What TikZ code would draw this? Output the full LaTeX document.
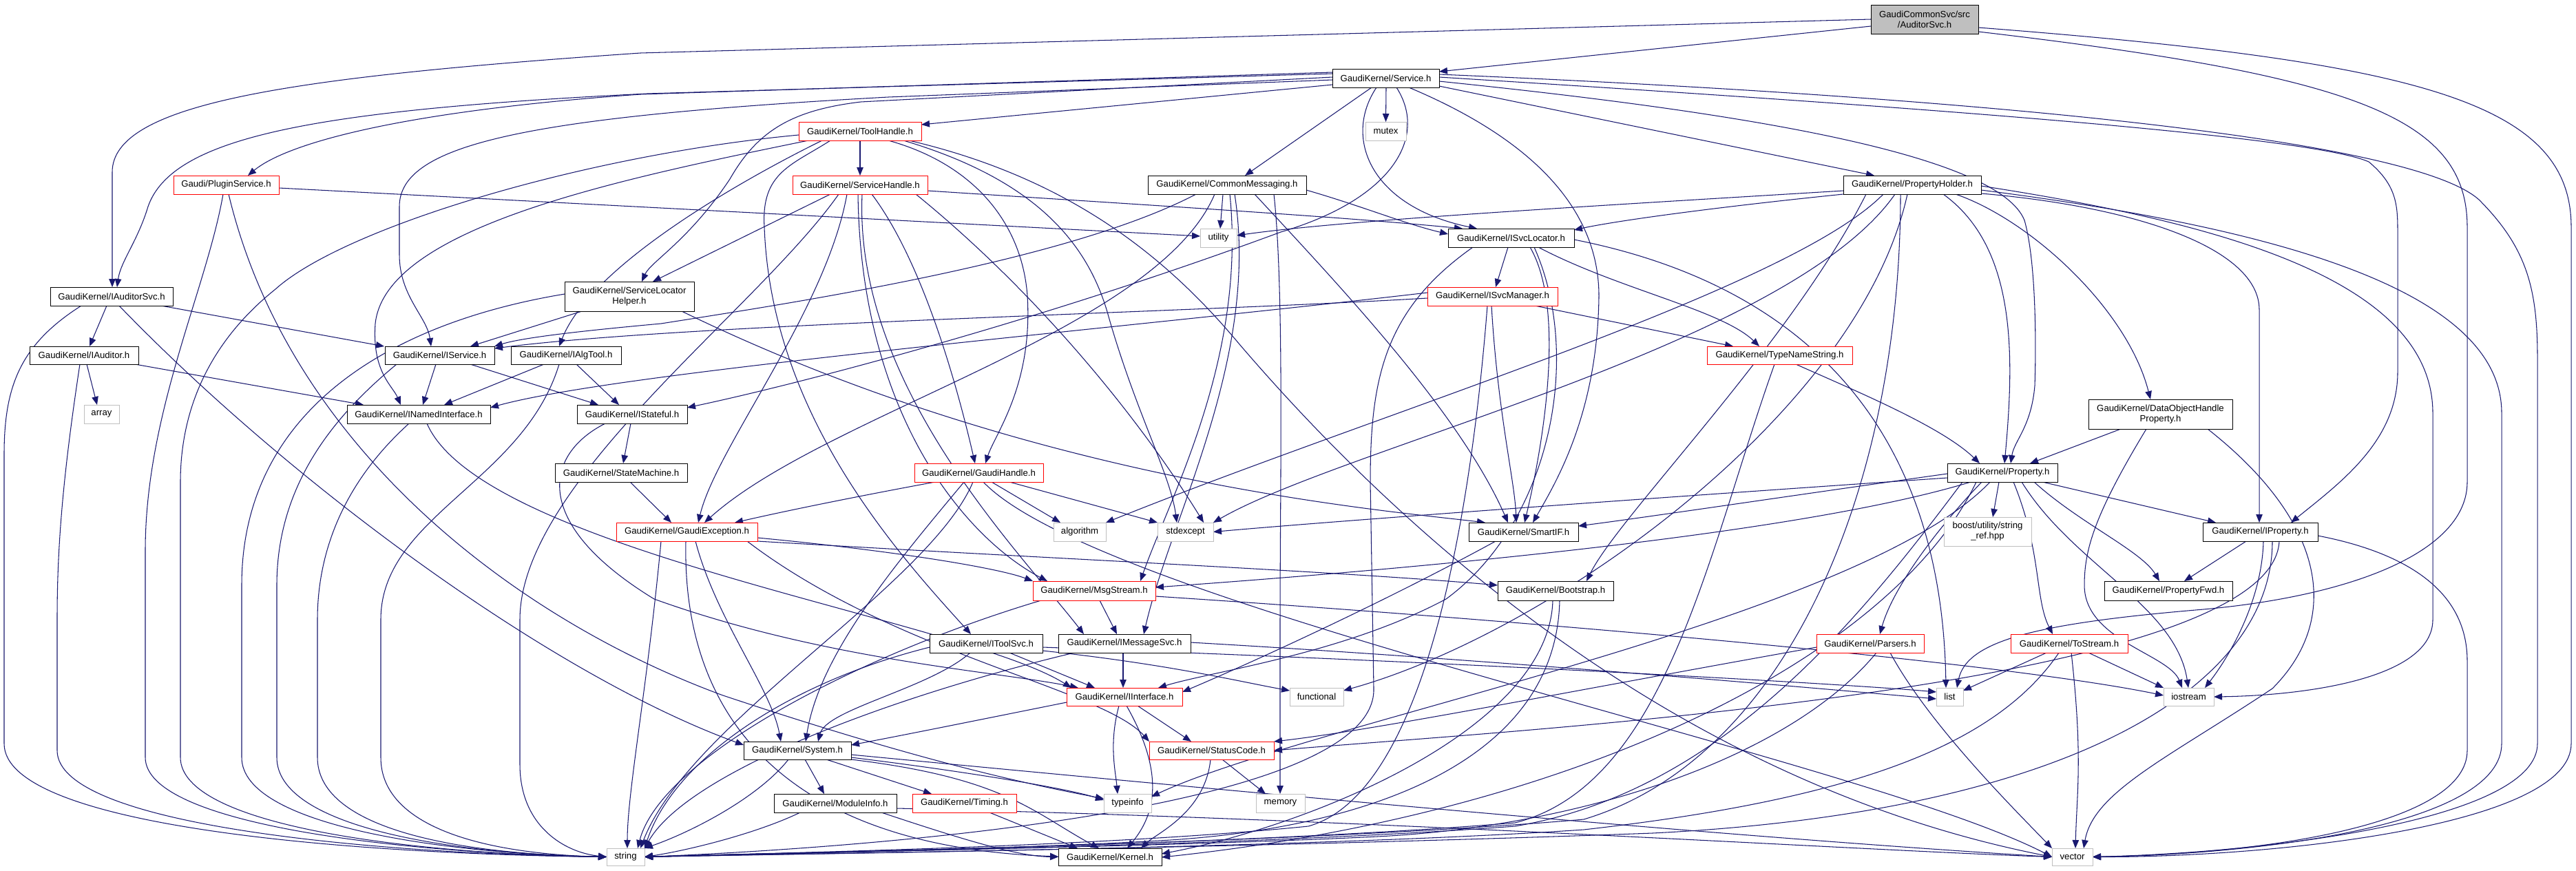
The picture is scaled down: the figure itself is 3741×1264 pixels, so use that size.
\documentclass[tikz,border=0pt]{standalone}
\usepackage{fontspec}
\setmainfont{Liberation Sans}
\usetikzlibrary{arrows.meta}
\definecolor{eb}{HTML}{191970}
\definecolor{lg}{HTML}{BFBFBF}
\pgfdeclarelayer{bg}
\pgfsetlayers{bg,main}
\newcommand\mknode[7]{\node[#6,minimum width={(#4-#2)*0.2mm},minimum height={(#5-#3)*0.2mm}] (#1) at ({(#2+#4)/2},{(#3+#5)/2}) {#7};}
\begin{document}
\begin{tikzpicture}[x=0.02cm,y=-0.02cm,
  bx/.style={inner sep=0pt,outer sep=0pt,line width=0.55pt,align=center,fill=white,font=\fontsize{7.5}{8.6}\selectfont},
  nb/.style={bx,draw=black},
  rb/.style={bx,draw=red},
  gb/.style={bx,draw=lg},
  rt/.style={bx,draw=black,fill=lg},
  e/.style={draw=eb,line width=0.6pt,-{Triangle[length=2.4mm,width=1.9mm]}}]
\useasboundingbox (0,0) rectangle (3741,1264);
\mknode{root}{2717}{7}{2873}{49}{rt}{GaudiCommonSvc/src\\/AuditorSvc.h}
\mknode{service}{1935}{100}{2090}{127}{nb}{GaudiKernel/Service.h}
\mknode{mutex}{1983}{177}{2042}{204}{gb}{mutex}
\mknode{toolhandle}{1160}{177}{1338}{204}{rb}{GaudiKernel/ToolHandle.h}
\mknode{pluginsvc}{252}{255}{405}{282}{rb}{Gaudi/PluginService.h}
\mknode{servicehandle}{1151}{255}{1347}{282}{rb}{GaudiKernel/ServiceHandle.h}
\mknode{commonmsg}{1667}{255}{1897}{282}{nb}{GaudiKernel/CommonMessaging.h}
\mknode{propholder}{2677}{255}{2877}{282}{nb}{GaudiKernel/PropertyHolder.h}
\mknode{utility}{1743}{332}{1796}{359}{gb}{utility}
\mknode{isvclocator}{2103}{332}{2286}{359}{nb}{GaudiKernel/ISvcLocator.h}
\mknode{iauditorsvc}{73}{417}{251}{444}{nb}{GaudiKernel/IAuditorSvc.h}
\mknode{slhelper}{820}{409}{1008}{452}{nb}{GaudiKernel/ServiceLocator\\Helper.h}
\mknode{isvcmanager}{2073}{417}{2262}{444}{rb}{GaudiKernel/ISvcManager.h}
\mknode{iauditor}{43}{503}{201}{529}{nb}{GaudiKernel/IAuditor.h}
\mknode{iservice}{559}{503}{718}{529}{nb}{GaudiKernel/IService.h}
\mknode{ialgtool}{742}{503}{902}{529}{nb}{GaudiKernel/IAlgTool.h}
\mknode{typenamestring}{2479}{503}{2690}{529}{rb}{GaudiKernel/TypeNameString.h}
\mknode{array}{122}{588}{173}{615}{gb}{array}
\mknode{inamedinterface}{504}{588}{712}{615}{nb}{GaudiKernel/INamedInterface.h}
\mknode{istateful}{838}{588}{998}{615}{nb}{GaudiKernel/IStateful.h}
\mknode{dohp}{3033}{580}{3242}{623}{nb}{GaudiKernel/DataObjectHandle\\Property.h}
\mknode{statemachine}{806}{673}{998}{700}{nb}{GaudiKernel/StateMachine.h}
\mknode{gaudihandle}{1328}{673}{1515}{700}{rb}{GaudiKernel/GaudiHandle.h}
\mknode{property}{2828}{673}{2988}{700}{nb}{GaudiKernel/Property.h}
\mknode{gaudiexception}{895}{759}{1100}{786}{rb}{GaudiKernel/GaudiException.h}
\mknode{algorithm}{1530}{759}{1606}{786}{gb}{algorithm}
\mknode{stdexcept}{1681}{759}{1762}{786}{gb}{stdexcept}
\mknode{smartif}{2133}{759}{2292}{786}{nb}{GaudiKernel/SmartIF.h}
\mknode{boost}{2823}{751}{2950}{793}{gb}{boost/utility/string\\\_ref.hpp}
\mknode{iproperty}{3199}{759}{3366}{786}{nb}{GaudiKernel/IProperty.h}
\mknode{msgstream}{1500}{844}{1678}{872}{rb}{GaudiKernel/MsgStream.h}
\mknode{bootstrap}{2175}{844}{2343}{872}{nb}{GaudiKernel/Bootstrap.h}
\mknode{propertyfwd}{3056}{844}{3242}{872}{nb}{GaudiKernel/PropertyFwd.h}
\mknode{itoolsvc}{1350}{921}{1514}{948}{nb}{GaudiKernel/IToolSvc.h}
\mknode{imessagesvc}{1537}{921}{1729}{948}{nb}{GaudiKernel/IMessageSvc.h}
\mknode{parsers}{2638}{921}{2794}{948}{rb}{GaudiKernel/Parsers.h}
\mknode{tostream}{2920}{921}{3090}{948}{rb}{GaudiKernel/ToStream.h}
\mknode{iinterface}{1549}{999}{1717}{1025}{rb}{GaudiKernel/IInterface.h}
\mknode{functional}{1873}{999}{1951}{1025}{gb}{functional}
\mknode{list}{2812}{999}{2851}{1025}{gb}{list}
\mknode{iostream}{3142}{999}{3215}{1025}{gb}{iostream}
\mknode{system}{1080}{1077}{1236}{1103}{nb}{GaudiKernel/System.h}
\mknode{statuscode}{1669}{1077}{1850}{1103}{rb}{GaudiKernel/StatusCode.h}
\mknode{moduleinfo}{1124}{1153}{1302}{1180}{nb}{GaudiKernel/ModuleInfo.h}
\mknode{timing}{1325}{1153}{1476}{1180}{rb}{GaudiKernel/Timing.h}
\mknode{typeinfo}{1603}{1153}{1672}{1180}{gb}{typeinfo}
\mknode{memory}{1824}{1153}{1895}{1180}{gb}{memory}
\mknode{string}{881}{1232}{936}{1257}{gb}{string}
\mknode{kernel}{1537}{1232}{1687}{1257}{nb}{GaudiKernel/Kernel.h}
\mknode{vector}{2980}{1232}{3039}{1257}{gb}{vector}
\begin{pgfonlayer}{bg}
\fill[white] (0,0) rectangle (3741,1264);
% root
\draw[e] (root.west |- 0,38) -- (service.east |- 0,104);
\draw[e] (root.west |- 0,28) -- (930,77) .. controls (420,112) and (163,150) .. (163,250) -- (iauditorsvc.north -| 163,0);
\draw[e] (root.east |- 0,46) .. controls (3420,110) and (3583,170) .. (3583,330) -- (3583,700) .. controls (3583,800) and (3420,865) .. (3200,885) .. controls (2960,905) and (2855,930) .. (list.north -| 2842,0);
\draw[e] (root.east |- 0,40) .. controls (3520,90) and (3734,150) .. (3734,330) -- (3734,1080) .. controls (3734,1200) and (3300,1245) .. (vector.east);
% service
\draw[e] (service.west |- 0,123) -- (toolhandle.east |- 0,181);
\draw[e] (service.west |- 0,105) -- (930,137) .. controls (600,160) and (420,205) .. (pluginsvc.north -| 360,0);
\draw[e] (service.west |- 0,107) -- (940,136) .. controls (450,160) and (250,200) .. (215,300) .. controls (200,350) and (175,380) .. (iauditorsvc.north -| 170,0);
\draw[e] (service.west |- 0,116) -- (1290,141) .. controls (760,170) and (580,210) .. (580,300) -- (580,370) .. controls (580,430) and (620,460) .. (iservice.north -| 626,0);
\draw[e] (service.west |- 0,112) -- (1250,148) .. controls (1150,160) and (1100,190) .. (1060,260) .. controls (1000,350) and (945,380) .. (slhelper.north -| 932,0);
\draw[e] (service.south -| 1992,0) -- (commonmsg.north -| 1808,0);
\draw[e] (service.south -| 2013,0) -- (mutex.north);
\draw[e] (service.south -| 1999,0) .. controls (1950,200) and (1990,300) .. (isvclocator.north -| 2145,0);
\draw[e] (service.south -| 2028,0) .. controls (2075,200) and (2020,290) .. (1860,337) .. controls (1500,470) and (1150,560) .. (istateful.east |- 0,592);
\draw[e] (service.south -| 2046,0) .. controls (2220,200) and (2322,300) .. (2322,430) .. controls (2320,600) and (2260,700) .. (smartif.north -| 2226,0);
\draw[e] (service.east |- 0,125) -- (propholder.north -| 2722,0);
\draw[e] (service.east |- 0,118) .. controls (2500,160) and (2900,220) .. (2940,320) .. controls (2957,380) and (2957,500) .. (2955,560) .. controls (2950,620) and (2925,640) .. (property.north -| 2920,0);
\draw[e] (service.east |- 0,112) .. controls (2700,150) and (3350,195) .. (3440,235) .. controls (3482,270) and (3482,300) .. (3482,340) -- (3482,540) .. controls (3482,640) and (3400,700) .. (iproperty.north -| 3327,0);
\draw[e] (service.east |- 0,108) .. controls (2850,140) and (3500,200) .. (3600,290) .. controls (3670,360) and (3685,420) .. (3685,520) -- (3685,1080) .. controls (3685,1190) and (3300,1238) .. (vector.east);
% toolhandle
\draw[e] (toolhandle.south) -- (servicehandle.north);
\draw[e] (toolhandle.south -| 1290,0) .. controls (1420,240) and (1485,330) .. (1492,430) .. controls (1500,560) and (1445,630) .. (gaudihandle.north -| 1431,0);
\draw[e] (toolhandle.south -| 1312,0) .. controls (1500,260) and (1580,350) .. (1610,460) .. controls (1650,600) and (1700,690) .. (stdexcept.north -| 1709,0);
\draw[e] (toolhandle.south -| 1320,0) .. controls (1560,260) and (1700,380) .. (1800,500) .. controls (2100,850) and (2500,1150) .. (vector.west);
\draw[e] (toolhandle.west |- 0,196) .. controls (850,225) and (500,330) .. (400,420) .. controls (300,500) and (262,600) .. (262,700) -- (262,1100) .. controls (262,1200) and (600,1240) .. (string.west);
\draw[e] (toolhandle.south -| 1194,0) .. controls (1100,250) and (860,380) .. (ialgtool.north -| 812,0);
\draw[e] (toolhandle.south -| 1174,0) .. controls (900,260) and (560,330) .. (545,470) .. controls (540,540) and (570,560) .. (inamedinterface.north -| 582,0);
\draw[e] (toolhandle.south -| 1206,0) .. controls (1150,240) and (1105,250) .. (1110,330) .. controls (1120,600) and (1300,800) .. (itoolsvc.north -| 1410,0);
% pluginsvc
\draw[e] (pluginsvc.east |- 0,273) -- (utility.west |- 0,343);
\draw[e] (pluginsvc.south -| 324,0) .. controls (300,420) and (211,600) .. (211,800) -- (211,1100) .. controls (211,1200) and (600,1240) .. (string.west);
\draw[e] (pluginsvc.south -| 332,0) .. controls (420,650) and (750,900) .. (1050,1010) .. controls (1350,1110) and (1500,1140) .. (typeinfo.west |- 0,1160);
% servicehandle
\draw[e] (servicehandle.south -| 1206,0) -- (slhelper.north -| 948,0);
\draw[e] (servicehandle.east |- 0,277) .. controls (1700,300) and (1950,315) .. (isvclocator.north -| 2124,0);
\draw[e] (servicehandle.south -| 1266,0) .. controls (1340,380) and (1390,560) .. (gaudihandle.north -| 1416,0);
\draw[e] (servicehandle.south -| 1230,0) .. controls (1200,450) and (1040,650) .. (gaudiexception.north -| 1014,0);
\draw[e] (servicehandle.south -| 1252,0) .. controls (1240,560) and (1480,800) .. (imessagesvc.north -| 1574,0);
\draw[e] (servicehandle.south -| 1246,0) .. controls (1250,600) and (1400,780) .. (msgstream.north -| 1521,0);
\draw[e] (servicehandle.south -| 1330,0) .. controls (1500,420) and (1650,600) .. (stdexcept.north -| 1748,0);
\draw[e] (servicehandle.south -| 1218,0) .. controls (1100,450) and (755,700) .. (755,900) -- (755,1110) .. controls (755,1200) and (820,1238) .. (string.west);
% commonmsg
\draw[e] (commonmsg.south -| 1776,0) -- (utility.north -| 1772,0);
\draw[e] (commonmsg.east |- 0,276) .. controls (1980,300) and (2040,325) .. (isvclocator.west |- 0,340);
\draw[e] (commonmsg.south -| 1737,0) .. controls (1550,380) and (1150,440) .. (960,470) .. controls (850,480) and (760,490) .. (iservice.north east);
\draw[e] (commonmsg.south -| 1764,0) .. controls (1680,480) and (1200,600) .. (gaudiexception.north -| 1023,0);
\draw[e] (commonmsg.south -| 1793,0) .. controls (1830,520) and (1700,750) .. (imessagesvc.north -| 1661,0);
\draw[e] (commonmsg.south -| 1786,0) .. controls (1810,520) and (1700,720) .. (msgstream.north -| 1656,0);
\draw[e] (commonmsg.south -| 1822,0) .. controls (1950,420) and (2120,600) .. (smartif.north -| 2190,0);
\draw[e] (commonmsg.south -| 1850,0) .. controls (1865,420) and (1859,700) .. (1859,900) -- (memory.north -| 1859,0);
% propholder
\draw[e] (propholder.west |- 0,277) .. controls (2300,300) and (1950,320) .. (utility.east |- 0,342);
\draw[e] (propholder.west |- 0,282) .. controls (2500,300) and (2350,320) .. (isvclocator.east |- 0,334);
\draw[e] (propholder.south -| 2735,0) .. controls (2600,420) and (2000,600) .. (algorithm.north east);
\draw[e] (propholder.south -| 2752,0) .. controls (2600,500) and (1950,650) .. (stdexcept.north east);
\draw[e] (propholder.south -| 2770,0) .. controls (2700,600) and (2250,920) .. (functional.east |- 0,1003);
\draw[e] (propholder.south -| 2760,0) .. controls (2760,700) and (2600,1100) .. (2300,1190) .. controls (1900,1225) and (1150,1238) .. (string.east);
\draw[e] (propholder.east |- 0,270) .. controls (3200,320) and (3533,400) .. (3533,600) -- (3533,900) .. controls (3533,985) and (3350,1010) .. (iostream.east);
\draw[e] (propholder.east |- 0,276) .. controls (3300,330) and (3633,420) .. (3633,600) -- (3633,1080) .. controls (3633,1195) and (3300,1240) .. (vector.east);
\draw[e] (propholder.east |- 0,281) .. controls (3100,300) and (3281,360) .. (3281,450) -- (iproperty.north -| 3281,0);
\draw[e] (propholder.south -| 2840,0) .. controls (2950,320) and (3090,450) .. (dohp.north -| 3123,0);
\draw[e] (propholder.south -| 2822,0) .. controls (2930,360) and (2925,520) .. (property.north -| 2911,0);
\draw[e] (propholder.south -| 2710,0) .. controls (2600,500) and (2350,750) .. (bootstrap.north -| 2304,0);
% isvclocator
\draw[e] (isvclocator.south -| 2190,0) -- (isvcmanager.north -| 2172,0);
\draw[e] (isvclocator.south -| 2139,0) .. controls (2010,450) and (1990,550) .. (1990,700) -- (1995,1000) .. controls (2000,1190) and (1150,1236) .. (string.east);
\draw[e] (isvclocator.south -| 2222,0) .. controls (2275,450) and (2240,650) .. (smartif.north -| 2214,0);
\draw[e] (isvclocator.south -| 2234,0) .. controls (2350,420) and (2500,450) .. (typenamestring.north -| 2555,0);
\draw[e] (isvclocator.south -| 2228,0) .. controls (2300,520) and (2250,760) .. (2100,870) .. controls (1950,950) and (1760,975) .. (iinterface.north -| 1682,0);
\draw[e] (isvclocator.east |- 0,348) .. controls (2650,420) and (2820,650) .. (list.north -| 2826,0);
% isvcmanager
\draw[e] (isvcmanager.west |- 0,433) .. controls (1700,455) and (1000,470) .. (iservice.east |- 0,506);
\draw[e] (isvcmanager.west |- 0,425) .. controls (1600,480) and (900,540) .. (inamedinterface.east |- 0,592);
\draw[e] (isvcmanager.south -| 2166,0) .. controls (2175,600) and (2200,700) .. (smartif.north -| 2202,0);
\draw[e] (isvcmanager.south -| 2229,0) -- (typenamestring.north -| 2517,0);
\draw[e] (isvcmanager.south -| 2160,0) .. controls (2140,700) and (2080,1150) .. (1900,1200) .. controls (1600,1230) and (1150,1238) .. (string.east);
% slhelper
\draw[e] (slhelper.south -| 845,0) -- (iservice.north -| 683,0);
\draw[e] (slhelper.south -| 990,0) .. controls (1500,700) and (2000,740) .. (smartif.north -| 2157,0);
\draw[e] (slhelper.west |- 0,427) .. controls (560,470) and (351,600) .. (351,850) -- (351,1100) .. controls (351,1200) and (650,1240) .. (string.west);
% iauditorsvc
\draw[e] (iauditorsvc.south -| 155,0) -- (iauditor.north -| 130,0);
\draw[e] (iauditorsvc.south -| 234,0) -- (iservice.north -| 558,0);
\draw[e] (iauditorsvc.south -| 118,0) .. controls (30,500) and (6,560) .. (6,660) -- (6,1080) .. controls (6,1200) and (500,1240) .. (string.west);
\draw[e] (iauditorsvc.south -| 173,0) .. controls (420,700) and (800,980) .. (system.west |- 0,1082);
% iauditor
\draw[e] (iauditor.south -| 126,0) -- (array.north -| 141,0);
\draw[e] (iauditor.south -| 196,0) -- (inamedinterface.north -| 528,0);
\draw[e] (iauditor.south -| 116,0) .. controls (90,700) and (83,800) .. (83,900) -- (83,1090) .. controls (83,1200) and (550,1240) .. (string.west);
% iservice
\draw[e] (iservice.south -| 633,0) -- (inamedinterface.north -| 614,0);
\draw[e] (iservice.south -| 683,0) -- (istateful.north -| 869,0);
\draw[e] (iservice.south -| 576,0) .. controls (490,600) and (402,700) .. (402,850) -- (402,1100) .. controls (402,1200) and (650,1240) .. (string.west);
% ialgtool
\draw[e] (ialgtool.south -| 790,0) -- (inamedinterface.north -| 645,0);
\draw[e] (ialgtool.south -| 837,0) -- (istateful.north -| 899,0);
\draw[e] (ialgtool.south -| 812,0) .. controls (760,700) and (553,750) .. (553,900) -- (553,1100) .. controls (553,1200) and (700,1240) .. (string.west);
% typenamestring
\draw[e] (typenamestring.south -| 2608,0) .. controls (2700,570) and (2820,620) .. (property.north -| 2875,0);
\draw[e] (typenamestring.south -| 2577,0) .. controls (2480,800) and (2420,1140) .. (2200,1195) .. controls (1800,1228) and (1150,1238) .. (string.east);
% inamedinterface
\draw[e] (inamedinterface.south -| 620,0) .. controls (700,800) and (1400,900) .. (iinterface.north -| 1556,0);
\draw[e] (inamedinterface.south -| 594,0) .. controls (500,700) and (461,800) .. (461,900) -- (461,1100) .. controls (461,1200) and (650,1240) .. (string.west);
% istateful
\draw[e] (istateful.south -| 916,0) -- (statemachine.north -| 905,0);
\draw[e] (istateful.south -| 879,0) .. controls (790,660) and (770,760) .. (950,870) .. controls (1200,960) and (1450,975) .. (iinterface.north -| 1566,0);
% statemachine
\draw[e] (statemachine.south -| 915,0) -- (gaudiexception.north -| 975,0);
% dohp
\draw[e] (dohp.south -| 3080,0) -- (property.north -| 2948,0);
\draw[e] (dohp.south -| 3117,0) .. controls (3040,750) and (3027,800) .. (3027,850) .. controls (3027,930) and (3150,950) .. (iostream.north -| 3169,0);
\draw[e] (dohp.south -| 3206,0) .. controls (3380,760) and (3400,900) .. (3300,1000) .. controls (3150,1100) and (3040,1150) .. (vector.north -| 3026,0);
% property
\draw[e] (property.south -| 2966,0) -- (iproperty.north -| 3218,0);
\draw[e] (property.south -| 2954,0) .. controls (3020,760) and (3110,800) .. (propertyfwd.north -| 3136,0);
\draw[e] (property.south -| 2903,0) -- (boost.north -| 2894,0);
\draw[e] (property.south -| 2924,0) .. controls (2965,800) and (2955,870) .. (tostream.north -| 2981,0);
\draw[e] (property.south -| 2878,0) .. controls (2820,760) and (2750,850) .. (parsers.north -| 2730,0);
\draw[e] (property.south -| 2936,0) .. controls (3010,820) and (3160,880) .. (iostream.north -| 3178,0);
\draw[e] (property.west |- 0,688) .. controls (2600,720) and (2400,750) .. (smartif.east |- 0,764);
\draw[e] (property.west |- 0,694) .. controls (2300,730) and (1900,760) .. (stdexcept.east);
\draw[e] (property.south -| 2862,0) .. controls (2600,780) and (2000,830) .. (msgstream.east |- 0,853);
\draw[e] (property.south -| 2850,0) .. controls (2700,900) and (2500,1150) .. (2200,1200) .. controls (1800,1230) and (1150,1238) .. (string.east);
\draw[e] (property.south -| 2870,0) .. controls (2750,950) and (2300,1180) .. (kernel.east |- 0,1245);
\draw[e] (property.south -| 2890,0) .. controls (2700,900) and (1900,1050) .. (typeinfo.east |- 0,1157);
% iproperty
\draw[e] (iproperty.south -| 3262,0) -- (propertyfwd.north -| 3172,0);
\draw[e] (iproperty.south -| 3287,0) .. controls (3285,870) and (3240,950) .. (iostream.north -| 3202,0);
\draw[e] (iproperty.east |- 0,778) .. controls (3480,800) and (3583,850) .. (3583,960) -- (3583,1090) .. controls (3583,1195) and (3300,1240) .. (vector.east);
\draw[e] (iproperty.south -| 3300,0) .. controls (3300,1000) and (3000,1180) .. (2400,1210) .. controls (1800,1232) and (1150,1240) .. (string.east);
\draw[e] (iproperty.south -| 3310,0) .. controls (3300,1000) and (2200,1060) .. (statuscode.east |- 0,1090);
% parsers
\draw[e] (parsers.west |- 0,940) .. controls (2300,1000) and (2000,1060) .. (statuscode.north east);
\draw[e] (parsers.south -| 2725,0) .. controls (2600,1100) and (2300,1200) .. (2000,1215) .. controls (1700,1230) and (1150,1238) .. (string.east);
\draw[e] (parsers.south -| 2745,0) .. controls (2800,1050) and (2920,1170) .. (vector.north west);
% tostream
\draw[e] (tostream.south -| 2972,0) -- (list.east |- 0,1003);
\draw[e] (tostream.south -| 3033,0) -- (iostream.north -| 3142,0);
\draw[e] (tostream.south -| 3008,0) .. controls (3025,1100) and (3016,1150) .. (vector.north -| 3014,0);
\draw[e] (tostream.south -| 2990,0) .. controls (2900,1080) and (2700,1160) .. (2300,1205) .. controls (1900,1232) and (1150,1240) .. (string.east);
% msgstream
\draw[e] (msgstream.south -| 1597,0) -- (imessagesvc.north -| 1622,0);
\draw[e] (msgstream.south -| 1512,0) .. controls (1250,950) and (960,1100) .. (string.north -| 926,0);
\draw[e] (msgstream.east |- 0,866) .. controls (2200,900) and (2900,960) .. (iostream.west |- 0,1010);
% bootstrap
\draw[e] (bootstrap.south -| 2255,0) .. controls (2250,1060) and (1900,1200) .. (kernel.east |- 0,1240);
\draw[e] (bootstrap.south -| 2265,0) .. controls (2260,1100) and (2000,1200) .. (1700,1220) .. controls (1500,1232) and (1150,1240) .. (string.east);
% itoolsvc
\draw[e] (itoolsvc.south -| 1409,0) .. controls (1350,1000) and (1200,1030) .. (system.north -| 1188,0);
\draw[e] (itoolsvc.south -| 1466,0) -- (iinterface.north -| 1590,0);
\draw[e] (itoolsvc.east |- 0,945) .. controls (1700,965) and (1800,990) .. (functional.west |- 0,1003);
\draw[e] (itoolsvc.east |- 0,940) .. controls (2200,965) and (2700,995) .. (list.west |- 0,1005);
\draw[e] (itoolsvc.west |- 0,940) .. controls (1150,990) and (980,1100) .. (string.north east);
% imessagesvc
\draw[e] (imessagesvc.south -| 1631,0) -- (iinterface.north -| 1631,0);
\draw[e] (imessagesvc.south -| 1560,0) .. controls (1300,1010) and (1000,1120) .. (string.north east);
\draw[e] (imessagesvc.east |- 0,933) .. controls (2200,960) and (2700,1005) .. (list.west |- 0,1015);
% iinterface
\draw[e] (iinterface.west |- 0,1020) .. controls (1400,1050) and (1300,1070) .. (system.east |- 0,1082);
\draw[e] (iinterface.south -| 1652,0) -- (statuscode.north -| 1730,0);
\draw[e] (iinterface.south -| 1625,0) .. controls (1610,1080) and (1620,1120) .. (typeinfo.north -| 1623,0);
\draw[e] (iinterface.south -| 1636,0) .. controls (1690,1120) and (1680,1180) .. (kernel.north -| 1637,0);
% gaudihandle
\draw[e] (gaudihandle.south -| 1358,0) .. controls (1250,720) and (1150,740) .. (gaudiexception.north -| 1067,0);
\draw[e] (gaudihandle.south -| 1440,0) -- (algorithm.north -| 1540,0);
\draw[e] (gaudihandle.south -| 1466,0) -- (stdexcept.north west);
\draw[e] (gaudihandle.south -| 1400,0) .. controls (1300,820) and (1190,950) .. (system.north -| 1170,0);
\draw[e] (gaudihandle.south -| 1413,0) .. controls (1350,850) and (1000,1050) .. (string.north -| 930,0);
\draw[e] (gaudihandle.south -| 1428,0) .. controls (1600,880) and (2700,1100) .. (vector.west);
% gaudiexception
\draw[e] (gaudiexception.east |- 0,781) .. controls (1300,800) and (1450,825) .. (msgstream.north west);
\draw[e] (gaudiexception.east |- 0,786) .. controls (1500,810) and (1950,830) .. (bootstrap.west |- 0,850);
\draw[e] (gaudiexception.south -| 1010,0) .. controls (1040,900) and (1120,1000) .. (system.north -| 1134,0);
\draw[e] (gaudiexception.south -| 996,0) .. controls (990,1050) and (1150,1230) .. (kernel.west |- 0,1244);
\draw[e] (gaudiexception.south -| 1085,0) .. controls (1300,950) and (1600,1000) .. (statuscode.north west);
\draw[e] (gaudiexception.south -| 960,0) .. controls (940,1000) and (911,1150) .. (string.north -| 911,0);
% system
\draw[e] (system.south -| 1169,0) -- (moduleinfo.north -| 1197,0);
\draw[e] (system.south -| 1200,0) -- (timing.north -| 1353,0);
\draw[e] (system.east |- 0,1100) .. controls (1400,1120) and (1550,1145) .. (typeinfo.west |- 0,1162);
\draw[e] (system.east |- 0,1103) .. controls (1460,1130) and (1500,1180) .. (kernel.north -| 1596,0);
\draw[e] (system.south -| 1145,0) .. controls (1100,1160) and (1000,1210) .. (string.north east);
\draw[e] (system.east |- 0,1096) .. controls (1800,1150) and (2500,1215) .. (vector.west);
% moduleinfo
\draw[e] (moduleinfo.south -| 1162,0) .. controls (1100,1210) and (1000,1235) .. (string.east);
\draw[e] (moduleinfo.south -| 1280,0) .. controls (1400,1220) and (1480,1244) .. (kernel.west);
\draw[e] (moduleinfo.east |- 0,1174) .. controls (2000,1190) and (2700,1235) .. (vector.west);
% timing
\draw[e] (timing.south -| 1437,0) -- (kernel.north -| 1565,0);
% statuscode
\draw[e] (statuscode.south -| 1775,0) -- (memory.north -| 1838,0);
\draw[e] (statuscode.south -| 1758,0) .. controls (1750,1180) and (1680,1210) .. (kernel.north -| 1657,0);
% smartif
\draw[e] (smartif.south -| 2172,0) .. controls (2000,880) and (1800,970) .. (iinterface.east |- 0,1005);
\end{pgfonlayer}
\end{tikzpicture}
\end{document}
